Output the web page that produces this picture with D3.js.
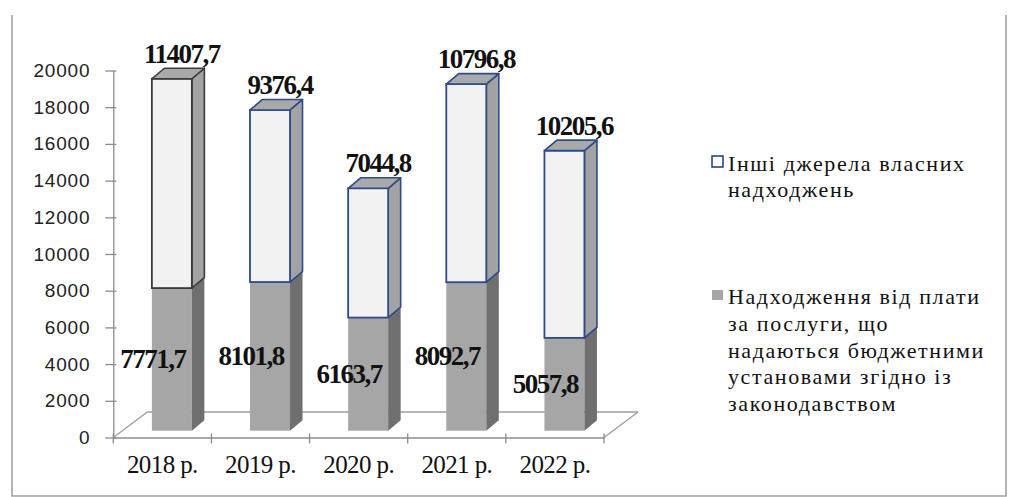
<!DOCTYPE html>
<html lang="uk">
<head>
<meta charset="utf-8">
<script src="https://cdn.jsdelivr.net/npm/d3@7"></script>
<style>
  html, body { margin: 0; padding: 0; background: #ffffff; }
  svg { display: block; }
  .serif { font-family: "Liberation Serif", "DejaVu Serif", "Times New Roman", serif; }
  .sans { font-family: "Liberation Sans", Arial, sans-serif; }
</style>
</head>
<body>
<svg id="chart" width="1009" height="497"></svg>
<script>
// Власні надходження бюджетних установ, тис. грн
const categories = ["2018 р.", "2019 р.", "2020 р.", "2021 р.", "2022 р."];
const feeIncome = [7771.7, 8101.8, 6163.7, 8092.7, 5057.8];
const otherIncome = [11407.7, 9376.4, 7044.8, 10796.8, 10205.6];
const yTicks = [0, 2000, 4000, 6000, 8000, 10000, 12000, 14000, 16000, 18000, 20000];
const legendOther = ["Інші джерела власних", "надходжень"];
const legendFees = ["Надходження від плати", "за послуги, що", "надаються бюджетними", "установами згідно із", "законодавством"];

const svg = d3.select("#chart");
const fmt = v => d3.format(".1f")(v).replace(".", ",");

const x = d3.scaleBand().domain(categories).range([113.3, 604]).padding(0);
const y = d3.scaleLinear().domain([0, 20000]).range([437.5, 70.5]);
const bw = x.bandwidth();

// 3D projection helpers
const floorDepth = { dx: 34, dy: -25.5 };
const barShift = { dx: 9.5, dy: -6.8 };
const barDepth = { dx: 12.5, dy: -10.5 };
const barW = 40;

// frame
svg.append("path").attr("d", "M12,15V496H1006V15")
  .attr("fill", "none").attr("stroke", "#a3a3a3").attr("stroke-width", 1.6);

// floor
const [x0, x1] = x.range();
const y0 = y(0);
const floor = svg.append("g").attr("fill", "none").attr("stroke", "#9c9c9c").attr("stroke-width", 1.3);
floor.append("path").attr("d", `M${x0 + floorDepth.dx},${y0 + floorDepth.dy}H${x1 + floorDepth.dx}`);
floor.append("path").attr("d", `M${x0},${y0}L${x0 + floorDepth.dx},${y0 + floorDepth.dy}`);
floor.append("path").attr("d", `M${x1},${y0}L${x1 + floorDepth.dx},${y0 + floorDepth.dy}`);

// bars
const bars = svg.append("g");
const labels = svg.append("g");
categories.forEach((c, i) => {
  const left = x(c) + (bw - barW) / 2 + barShift.dx;
  const right = left + barW;
  const yb = y(0) + barShift.dy;
  const ym = y(feeIncome[i]) + barShift.dy;
  const yt = y(feeIncome[i] + otherIncome[i]) + barShift.dy;
  const g = bars.append("g");
  const side = (ya, yz) => `M${right},${yz}L${right + barDepth.dx},${yz + barDepth.dy}L${right + barDepth.dx},${ya + barDepth.dy}L${right},${ya}Z`;
  // lower segment: fee income
  g.append("rect").attr("x", left).attr("y", ym).attr("width", barW).attr("height", yb - ym).attr("fill", "#a6a6a6");
  g.append("path").attr("d", side(ym, yb)).attr("fill", "#6f6f6f");
  // upper segment: other own income
  const edge = i === 0 ? "#3b3b3b" : "#2c4a8c";
  g.append("path").attr("d", side(yt, ym)).attr("fill", "#a3a3a3").attr("stroke", edge).attr("stroke-width", 1.6).attr("stroke-linejoin", "round");
  g.append("rect").attr("x", left).attr("y", yt).attr("width", barW).attr("height", ym - yt).attr("fill", "#f2f2f2").attr("stroke", edge).attr("stroke-width", 1.8);
  g.append("path")
    .attr("d", `M${left},${yt}L${left + barDepth.dx},${yt + barDepth.dy}H${right + barDepth.dx}L${right},${yt}Z`)
    .attr("fill", "#a9a9a9").attr("stroke", edge).attr("stroke-width", 1.6).attr("stroke-linejoin", "round");

  const cx = left + barW / 2;
  // value labels
  labels.append("text").attr("x", cx + 10).attr("y", yt - 16).text(fmt(otherIncome[i]));
  labels.append("text").attr("x", cx - 19).attr("y", (ym + yb) / 2 + 9).text(fmt(feeIncome[i]));
});

labels.selectAll("text").attr("class", "serif").attr("text-anchor", "middle")
  .attr("font-weight", "bold").attr("font-size", 27).attr("letter-spacing", -1.5).attr("fill", "#111");

// front floor edge / category axis
const xAxis = svg.append("g").attr("transform", `translate(0,${y0})`)
  .call(d3.axisBottom(x).tickSize(0).tickPadding(0));
xAxis.attr("font-family", null).attr("font-size", null);
xAxis.select(".domain").attr("stroke", "#8c8c8c").attr("stroke-width", 1.3);
xAxis.selectAll("text")
  .attr("class", "serif").attr("y", 35).attr("dy", null)
  .attr("font-size", 25).attr("letter-spacing", -0.6).attr("fill", "#111");
const bounds = categories.map(c => x(c)).concat([x1]);
xAxis.selectAll("line.bound").data(bounds).join("line").attr("class", "bound")
  .attr("x1", d => d).attr("x2", d => d).attr("y1", -4).attr("y2", 6)
  .attr("stroke", "#8c8c8c").attr("stroke-width", 1.3);

// value axis
const yAxis = svg.append("g").attr("transform", `translate(${x0},0)`)
  .call(d3.axisLeft(y).tickValues(yTicks).tickFormat(d3.format("d")).tickSize(8).tickPadding(15).tickSizeOuter(0));
yAxis.attr("font-family", null).attr("font-size", null);
yAxis.select(".domain").attr("stroke", "#8c8c8c").attr("stroke-width", 1.3);
yAxis.selectAll(".tick line").attr("stroke", "#8c8c8c").attr("stroke-width", 1.3).attr("x2", 3).attr("x1", -8);
yAxis.selectAll("text").attr("class", "sans")
  .attr("font-size", 19).attr("letter-spacing", 0.8).attr("fill", "#222");

// legend
const legend = svg.append("g");
legend.append("rect").attr("x", 712).attr("y", 156).attr("width", 11).attr("height", 11)
  .attr("fill", "#ffffff").attr("stroke", "#203b78").attr("stroke-width", 1.5);
legendOther.forEach((t, k) => legend.append("text").attr("x", 728).attr("y", 170.7 + k * 26).text(t));
legend.append("rect").attr("x", 712).attr("y", 290).attr("width", 11).attr("height", 10).attr("fill", "#a6a6a6");
legendFees.forEach((t, k) => legend.append("text").attr("x", 728).attr("y", 304.3 + k * 26.6).text(t));
legend.selectAll("text").attr("class", "serif").attr("font-size", 22).attr("letter-spacing", 1.6).attr("fill", "#111");
</script>
</body>
</html>
